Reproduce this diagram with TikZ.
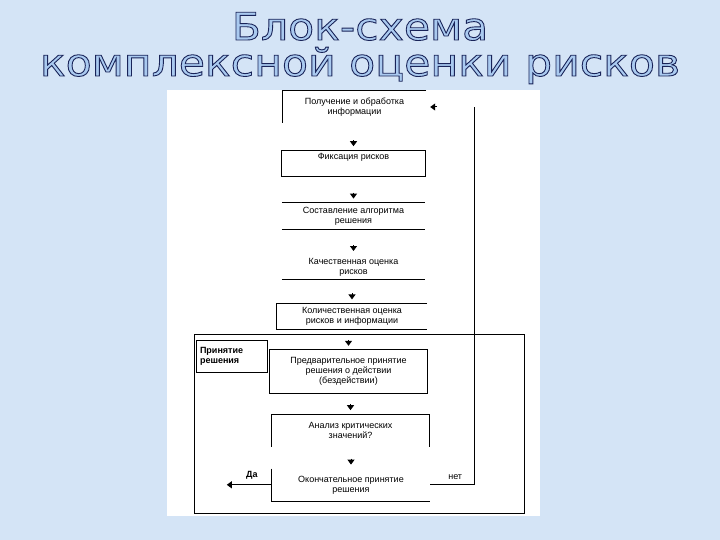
\documentclass[tikz,border=0pt]{standalone}
\usepackage{fontspec}
\setmainfont{Liberation Sans}
\newfontfamily\titlefont[FakeStretch=1.12]{DejaVu Sans}
\usetikzlibrary{positioning}
\usetikzlibrary{arrows.meta}

\definecolor{fon}{RGB}{212,228,246}
\definecolor{zagolovok}{RGB}{170,202,240}

% outlined title text (fill + stroke)
\newcommand{\obvodka}[1]{\special{pdf:code q 0.10 0.14 0.35 RG 0.9 w 2 Tr}#1\special{pdf:code 0 Tr Q}}

\tikzset{
  blok/.style={inner sep=0pt, align=center, font=\fontsize{9}{10}\selectfont},
  strelka/.style={-{Triangle[width=7pt,length=5pt]}, line width=1pt},
  ramka/.style={line width=1pt},
  titul/.style={font=\titlefont\fontsize{38}{38}\selectfont, inner sep=0pt, anchor=base, text=zagolovok},
}

\begin{document}
\begin{tikzpicture}[x=1pt, y=-1pt]
    \useasboundingbox (0,0) rectangle (720,540);
    \fill[fon] (0,0) rectangle (720,540);
    \fill[white] (167,90) rectangle (540,516);

    % title
    \node[titul] (t1) at (360,40) {\obvodka{Блок-схема}};
    \node[titul] (t2) at (360,76) {\obvodka{комплексной оценки рисков}};

    % steps
    \node[blok, minimum width=143pt, minimum height=32pt] (b1) at (354.5,107) {Получение и обработка\\информации};
    \node[blok, minimum width=143pt, minimum height=26pt, text depth=14pt, below=27pt of b1, xshift=-1pt] (b2) {Фиксация рисков};
    \node[blok, minimum width=143pt, minimum height=27pt, below=26pt of b2] (b3) {Составление алгоритма\\решения};
    \node[blok, minimum width=143pt, minimum height=24pt, below=25pt of b3] (b4) {Качественная оценка\\рисков};
    \node[blok, minimum width=150pt, minimum height=26pt, below=24pt of b4, xshift=-1.5pt] (b5) {Количественная оценка\\рисков и информации};
    \node[blok, minimum width=157pt, minimum height=43pt, below=20pt of b5, xshift=-3.5pt] (b6) {Предварительное принятие\\решения о действии\\(бездействии)};
    \node[blok, minimum width=157pt, minimum height=32pt, below=21pt of b6, xshift=2pt] (b7) {Анализ критических\\значений?};
    \node[blok, minimum width=158pt, minimum height=32pt, below=22pt of b7, xshift=0.5pt] (b8) {Окончательное принятие\\решения};

    % box edges
    \draw[ramka] (b1.north east) -- (b1.north west) -- (b1.south west);
    \draw[ramka] (b2.north west) rectangle (b2.south east);
    \draw[ramka] (b3.north west) -- (b3.north east) (b3.south west) -- (b3.south east);
    \draw[ramka] (b4.south west) -- (b4.south east);
    \draw[ramka] (b5.north east) -- (b5.north west) -- (b5.south west) -- (b5.south east);
    \draw[ramka] (b6.north west) rectangle (b6.south east);
    \draw[ramka] (b7.south west) -- (b7.north west) -- (b7.north east) -- (b7.south east);
    \draw[ramka] (b8.north west) -- (b8.south west) -- (b8.south east);

    % decision block
    \node[draw, ramka, inner sep=0pt, minimum width=330pt, minimum height=179pt] (reshenie) at (359,423.5) {};
    \node[draw, ramka, inner sep=0pt, minimum width=71pt, minimum height=32pt, text width=63pt, align=left,
          font=\fontsize{9}{10}\selectfont\bfseries] (prinyatie) at (231.5,356) {Принятие\\решения};

    \foreach \n in {b2,b3,b4,b5,b6,b7,b8}
        \draw[strelka] ([yshift=10pt]\n.north) -- ([yshift=4pt]\n.north);

    % outputs
    \coordinate[left=45pt of b8.west] (da);
    \coordinate (verh) at (474,107);
    \draw[strelka] (b8.west) -- (da);
    \draw[ramka] (b8.east) -| (verh);
    \draw[strelka] ([xshift=11pt]b1.east) -- ([xshift=4pt]b1.east);
    \node[font=\fontsize{9}{10}\selectfont\bfseries, above=2pt of b8.west, xshift=-20pt] (daTxt) {Да};
    \node[font=\fontsize{9}{10}\selectfont, above=2pt of b8.east, xshift=25pt] (netTxt) {нет};
\end{tikzpicture}
\end{document}
